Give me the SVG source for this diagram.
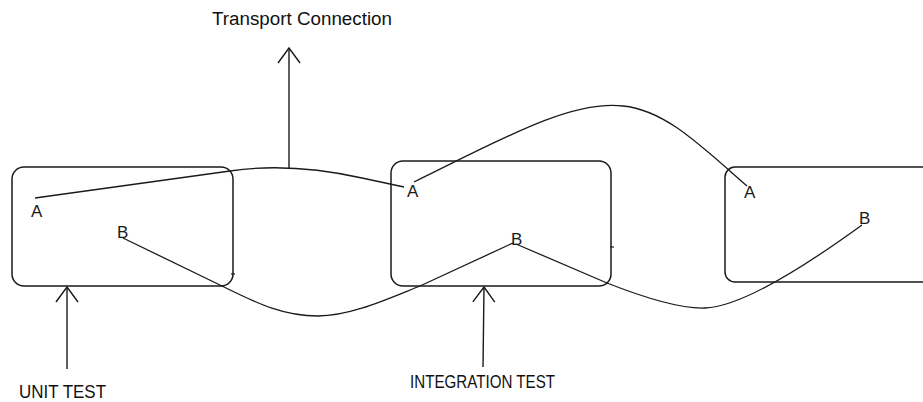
<svg xmlns="http://www.w3.org/2000/svg" width="923" height="402" viewBox="0 0 923 402">
  <style>
    .box { fill: none; stroke: #1a1a1a; stroke-width: 1.5; }
    .tick { stroke: #1a1a1a; stroke-width: 1.2; }
    .wire { fill: none; stroke: #1a1a1a; stroke-width: 1.3; stroke-linejoin: round; }
    .pointer { fill: none; stroke: #1a1a1a; stroke-width: 1.4; marker-end: url(#openHead); }
    .port { font-family: "Liberation Sans", Arial, sans-serif; font-size: 17px; fill: #1a1a1a; }
    .caption { font-family: "Liberation Sans", Arial, sans-serif; font-size: 18px; fill: #111; }
  </style>
  <defs>
    <marker id="openHead" markerUnits="userSpaceOnUse" viewBox="-17 -13 19 26" refX="0" refY="0" markerWidth="19" markerHeight="26" orient="auto" overflow="visible">
      <path d="M-15,-11 L0,0 L-15,11" fill="none" stroke="#1a1a1a" stroke-width="1.4"/>
    </marker>
  </defs>

  <rect width="923" height="402" fill="#ffffff"/>

  <!-- modules -->
  <g id="module-1">
    <rect class="box" x="12" y="167" width="221" height="119" rx="12" ry="12"/>
    <line class="tick" x1="231" y1="274" x2="235" y2="274"/>
    <text class="port" x="31" y="217">A</text>
    <text class="port" x="117" y="238">B</text>
  </g>

  <g id="module-2">
    <rect class="box" x="391" y="161" width="220" height="125" rx="12" ry="12"/>
    <line class="tick" x1="610" y1="247" x2="614" y2="247"/>
    <text class="port" x="407" y="197">A</text>
    <text class="port" x="511" y="245">B</text>
  </g>

  <g id="module-3">
    <rect class="box" x="725" y="167" width="220" height="115" rx="10" ry="10"/>
    <text class="port" x="744" y="198">A</text>
    <text class="port" x="859" y="224">B</text>
  </g>

  <!-- links between ports -->
  <g id="connectors">
    <path class="wire" d="M35,198 L230,171 Q290,162 362,178 L404,187"/>
    <path class="wire" d="M414,182 C500,140 570,100 623,106 C665,110 700,145 747,186"/>
    <path class="wire" d="M123,238 L222,286 C260,305 285,316 318,316 C350,316 385,300 420,286 L513,243"/>
    <path class="wire" d="M516,244 L607,283 C640,296 680,309 705,308 C740,307 800,270 862,225"/>
  </g>

  <!-- callout arrows -->
  <g id="callouts">
    <line class="pointer" x1="289" y1="168" x2="289" y2="48"/>
    <line class="pointer" x1="67" y1="369" x2="67" y2="287"/>
    <line class="pointer" x1="483" y1="367" x2="484" y2="287"/>
  </g>

  <g id="labels">
    <text class="caption" x="212" y="25" font-size="17" textLength="180" lengthAdjust="spacingAndGlyphs">Transport Connection</text>
    <text class="caption" x="19" y="398" textLength="87" lengthAdjust="spacingAndGlyphs">UNIT TEST</text>
    <text class="caption" x="410" y="388" textLength="145" lengthAdjust="spacingAndGlyphs">INTEGRATION TEST</text>
  </g>
</svg>
